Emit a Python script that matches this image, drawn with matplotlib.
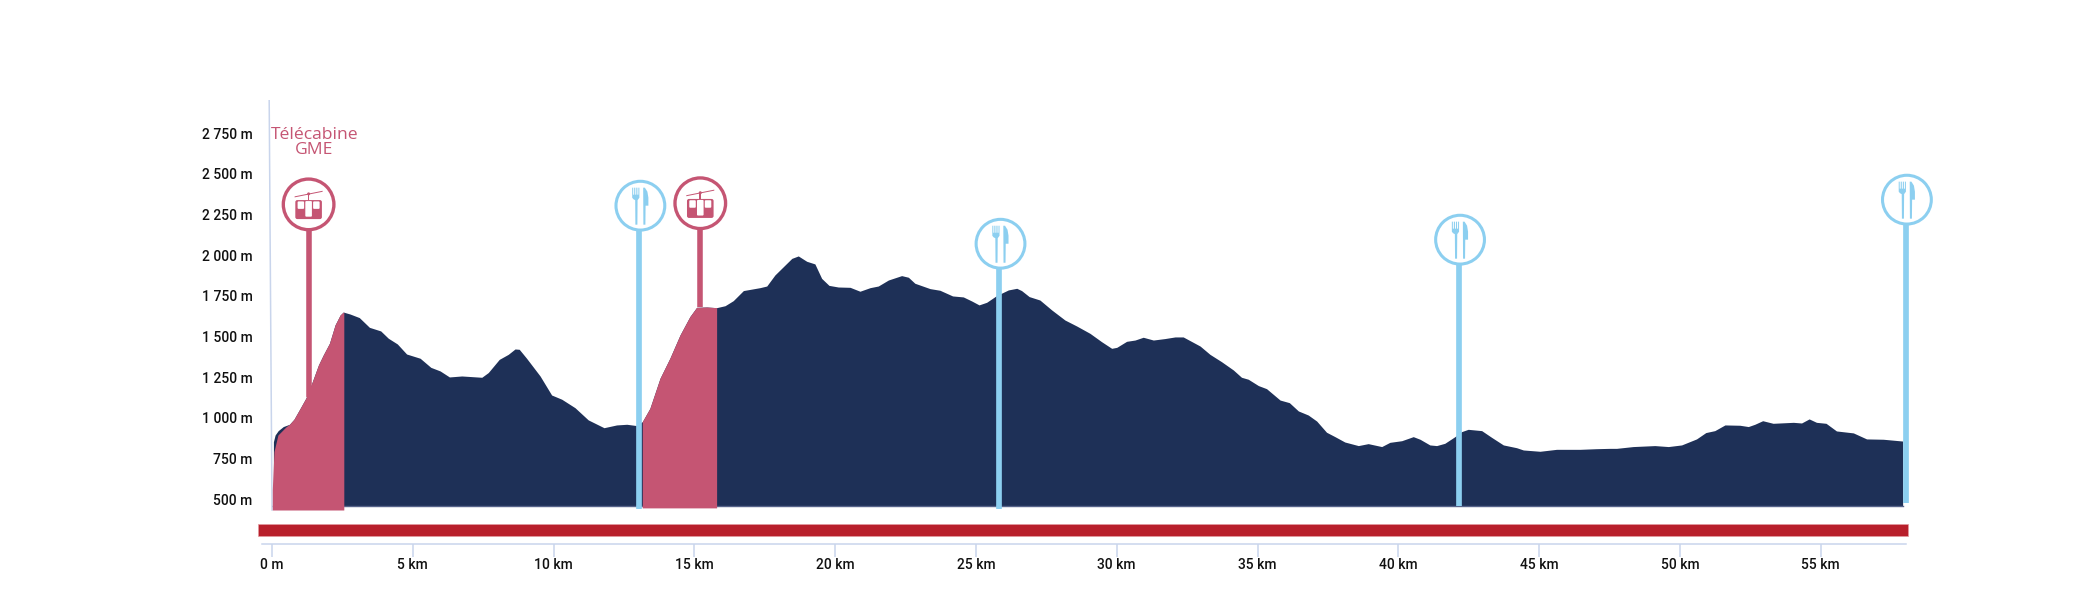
import matplotlib
matplotlib.use('Agg')
import matplotlib.pyplot as plt
import numpy as np
from matplotlib.patches import Circle, FancyBboxPatch, Polygon, Rectangle
from matplotlib.transforms import Affine2D

# elevation profile
km = [0.05, 0.11, 0.22, 0.40, 0.62, 0.78, 1.00, 1.20, 1.39, 1.65, 1.82, 2.04, 2.24, 2.42, 2.53,
      2.77, 3.10, 3.46, 3.86, 4.13, 4.45, 4.78, 5.26, 5.64, 5.97, 6.30, 6.74, 7.45, 7.68, 8.07, 8.39,
      8.63, 8.78, 9.04, 9.52, 9.93, 10.29, 10.76, 11.23, 11.79, 12.24, 12.60, 12.95, 13.15, 13.42,
      13.78, 14.13, 14.49, 14.84, 15.08, 15.44, 15.79, 16.09, 16.38, 16.74, 17.33, 17.57, 17.86,
      18.16, 18.46, 18.69, 18.99, 19.28, 19.52, 19.78, 20.11, 20.53, 20.88, 21.24, 21.53, 21.89,
      22.36, 22.60, 22.83, 23.37, 23.72, 24.17, 24.55, 24.85, 25.11, 25.38, 25.73, 26.15, 26.45,
      26.62, 26.89, 27.27, 27.69, 28.16, 28.58, 29.05, 29.46, 29.82, 30.00, 30.35, 30.65, 30.94,
      31.30, 31.71, 32.07, 32.36, 32.96, 33.31, 33.72, 34.14, 34.43, 34.67, 35.03, 35.32, 35.80,
      36.13, 36.45, 36.80, 37.10, 37.45, 37.75, 38.10, 38.58, 38.93, 39.41, 39.70, 40.12, 40.53,
      40.77, 41.12, 41.36, 41.65, 42.01, 42.25, 42.48, 42.96, 43.31, 43.73, 44.20, 44.44, 45.03,
      45.62, 46.45, 47.04, 47.51, 47.75, 48.34, 49.11, 49.59, 50.06, 50.59, 50.92, 51.24, 51.60,
      52.13, 52.43, 52.66, 52.94, 53.31, 54.03, 54.32, 54.59, 54.85, 55.19, 55.56, 56.16, 56.63,
      57.22, 57.91]
elevation = [854, 895, 922, 947, 961, 992, 1059, 1121, 1203, 1326, 1387, 1459, 1572, 1633, 1651,
             1639, 1617, 1557, 1535, 1490, 1455, 1393, 1367, 1311, 1289, 1252, 1258, 1250, 1279, 1360,
             1391, 1424, 1422, 1367, 1258, 1141, 1115, 1063, 988, 940, 957, 961, 953, 977, 1059, 1244,
             1367, 1510, 1623, 1680, 1682, 1678, 1690, 1721, 1783, 1801, 1811, 1879, 1930, 1981, 1996,
             1963, 1947, 1858, 1815, 1805, 1803, 1779, 1801, 1811, 1848, 1875, 1865, 1828, 1795, 1785,
             1750, 1744, 1719, 1695, 1711, 1752, 1787, 1797, 1783, 1746, 1725, 1664, 1602, 1565, 1520,
             1469, 1428, 1434, 1471, 1479, 1496, 1479, 1488, 1498, 1498, 1442, 1391, 1346, 1295, 1250,
             1238, 1199, 1180, 1110, 1094, 1043, 1018, 981, 912, 885, 852, 830, 842, 824, 850, 860, 885,
             869, 834, 830, 844, 885, 916, 930, 922, 881, 834, 817, 803, 795, 807, 807, 811, 813, 813,
             824, 830, 824, 834, 871, 910, 922, 957, 955, 947, 961, 983, 967, 973, 969, 994, 973, 967,
             920, 908, 871, 869, 858]

base_m = 457
cable_sections = [(0.01, 2.55, 434), (13.15, 15.79, 447)]
# the first pink section starts a little under the dark profile
cable_start_km = [0.01, 0.07, 0.21, 0.50]
cable_start_m = [560, 793, 895, 946]

cable_pins_km = [1.30, 15.21]
cable_pins_m = [2313, 2320]
cable_stems_m = [1131, 1680]
food_pins_km = [13.04, 25.83, 42.15, 58.02]
food_pins_m = [2305, 2071, 2096, 2342]
food_stems_m = [441, 439, 459, 476]

y_ticks = [500, 750, 1000, 1250, 1500, 1750, 2000, 2250, 2500, 2750]
y_labels = ['500 m', '750 m', '1 000 m', '1 250 m', '1 500 m', '1 750 m', '2 000 m', '2 250 m', '2 500 m', '2 750 m']
x_ticks = [0, 5, 10, 15, 20, 25, 30, 35, 40, 45, 50, 55]
x_labels = ['0 m', '5 km', '10 km', '15 km', '20 km', '25 km', '30 km', '35 km', '40 km', '45 km', '50 km', '55 km']

NAVY = '#1e3057'
PINK = '#c55573'
BLUE = '#8ccff0'
RED = '#b81f2b'
AXIS = '#c9d5ec'

plt.rcParams['font.family'] = ['Roboto', 'DejaVu Sans']


def px_transform(x, y):
    # icons are drawn in pixels around a point of the chart
    return Affine2D().translate(*ax.transData.transform((x, y)))


def draw_ring(tf, color, radius, lw):
    ax.add_patch(Circle((0, 0), radius, facecolor='white', edgecolor=color, linewidth=lw,
                        transform=tf, zorder=6, clip_on=False))


def draw_gondola(tf):
    def add(p):
        p.set_transform(tf)
        p.set_clip_on(False)
        p.set_zorder(7)
        ax.add_patch(p)
    add(Polygon([(-14, 7), (14, 12.6), (14, 13.6), (-14, 8)], closed=True, fc=PINK, ec='none'))
    add(Rectangle((-0.8, 4), 1.6, 7, fc=PINK, ec='none'))
    add(Circle((0, 10.5), 1.5, fc=PINK, ec='none'))
    add(FancyBboxPatch((-11.3, -12.7), 22.6, 15, boxstyle='round,pad=2', fc=PINK, ec='none'))
    add(FancyBboxPatch((-10, -3.5), 4.5, 5.5, boxstyle='round,pad=1', fc='white', ec='none'))
    add(FancyBboxPatch((5.5, -3.5), 4.5, 5.5, boxstyle='round,pad=1', fc='white', ec='none'))
    add(FancyBboxPatch((-2.3, -11.3), 4.6, 13.6, boxstyle='round,pad=1', fc='white', ec='none'))


def draw_cutlery(tf):
    fork = [(-8.2, 8), (-8.2, 18), (-7.2, 18), (-7.2, 11), (-6.2, 11), (-6.2, 18), (-5.1, 18), (-5.1, 11),
            (-4.1, 11), (-4.1, 18), (-3, 18), (-3, 11), (-2, 11), (-2, 18), (-1, 18), (-1, 8), (-2.8, 5.5),
            (-3, -19), (-5, -19), (-5.2, 5.5), (-7, 6.5)]
    knife = [(2.8, 18), (4.5, 18), (7, 14), (8, 8), (8, 0), (5.2, 0), (5, -19), (3, -19)]
    for pts in (fork, knife):
        ax.add_patch(Polygon(pts, closed=True, fc=BLUE, ec='none', transform=tf, zorder=7, clip_on=False))


def main():
    global ax
    fig = plt.figure(figsize=(20.98, 5.95), dpi=100)
    ax = fig.add_axes([261.7 / 2098, 1 - 544 / 595, (1906 - 261.7) / 2098, (544 - 100) / 595])
    ax.set_xlim(-0.366, 58.03)
    ax.set_ylim(225, 2954.7)

    km_arr = np.array(km)
    ele_arr = np.array(elevation)
    ax.fill_between(km_arr, base_m, ele_arr, color=NAVY, linewidth=0, zorder=2)
    ax.plot([km[0], km[-1]], [base_m, base_m], color='#56638a', lw=1, zorder=2)

    # stems of the cable car pins sit behind the pink sections
    for x, top, bottom in zip(cable_pins_km, cable_pins_m, cable_stems_m):
        ax.plot([x, x], [bottom, top], color=PINK, lw=4.0, solid_capstyle='butt', zorder=3)
    for i, (start, end, bottom) in enumerate(cable_sections):
        inside = (km_arr > start) & (km_arr < end)
        xs = np.concatenate(([start], km_arr[inside], [end]))
        ys = np.interp(xs, km_arr, ele_arr)
        if i == 0:
            keep = xs > cable_start_km[-1]
            xs = np.concatenate((cable_start_km, xs[keep]))
            ys = np.concatenate((cable_start_m, ys[keep]))
        ax.fill_between(xs, bottom, ys, color=PINK, linewidth=0, zorder=4)
    for x, top, bottom in zip(food_pins_km, food_pins_m, food_stems_m):
        ax.plot([x, x], [bottom, top], color=BLUE, lw=4.1, solid_capstyle='butt', zorder=5, clip_on=False)

    for x, y in zip(cable_pins_km, cable_pins_m):
        tf = px_transform(x, y)
        draw_ring(tf, PINK, 25.3, 2.4)
        draw_gondola(tf)
    for x, y in zip(food_pins_km, food_pins_m):
        tf = px_transform(x, y) + Affine2D().translate(1.2, 0)
        draw_ring(tf, BLUE, 24.4, 2.2)
        draw_cutlery(tf)

    ax.text(1.5, 2694, 'Télécabine\nGME', color=PINK, fontsize=12.6, family=['Open Sans'], ha='center',
            va='center', linespacing=0.85, zorder=6)

    ax.barh(310, 58.58, left=-0.487, height=72, color=RED, edgecolor='#e39aa0', linewidth=0.5,
            zorder=2, clip_on=False)
    ax.plot([-0.1, 0], [2954, 434], color=AXIS, lw=1.1, zorder=1)

    for side in ('top', 'right', 'left'):
        ax.spines[side].set_visible(False)
    ax.spines['bottom'].set_color(AXIS)
    ax.spines['bottom'].set_linewidth(1.1)
    ax.set_yticks(y_ticks, y_labels)
    ax.set_xticks(x_ticks, x_labels)
    ax.tick_params(axis='y', length=0, pad=6.5, labelsize=10, labelcolor='#111111')
    ax.tick_params(axis='x', length=9, width=1.1, color=AXIS, pad=1, labelsize=10, labelcolor='#111111')
    for label in ax.get_xticklabels() + ax.get_yticklabels():
        label.set_fontweight('medium')
    for label in ax.get_yticklabels():
        label.set_verticalalignment('center_baseline')

    fig.savefig('out.png', dpi=100)


if __name__ == '__main__':
    main()
